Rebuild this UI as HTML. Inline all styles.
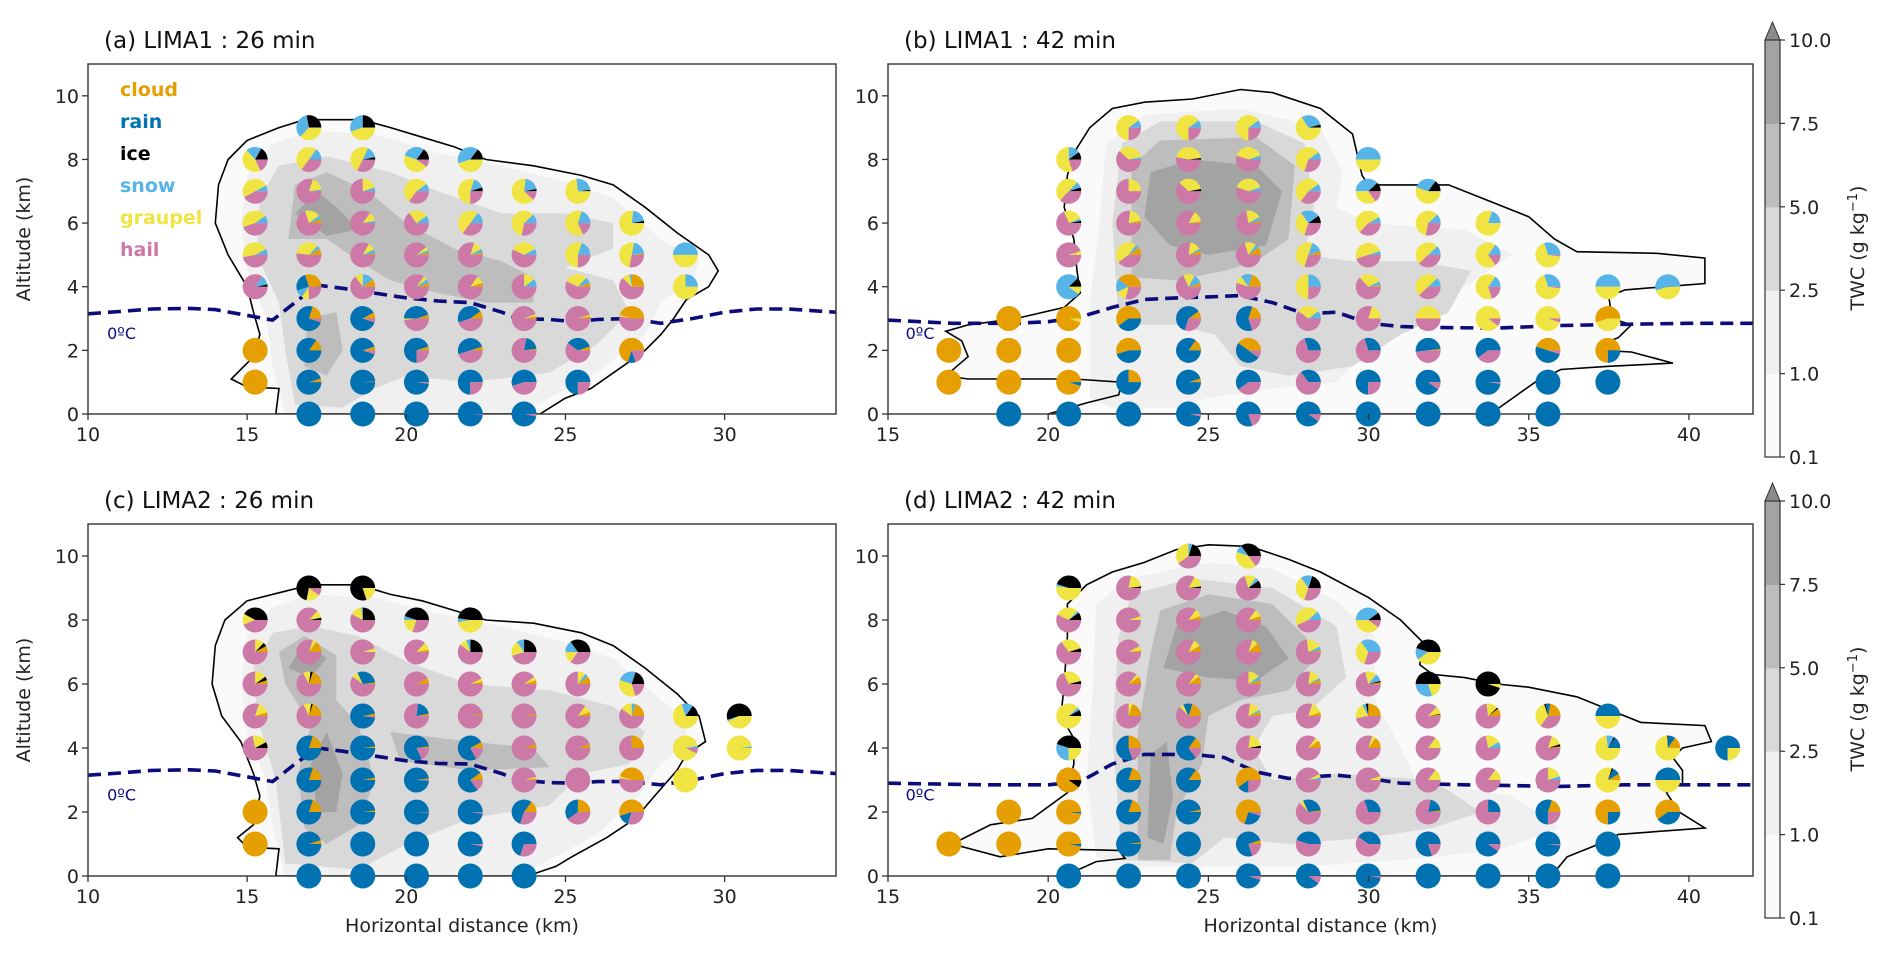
<!DOCTYPE html>
<html><head><meta charset="utf-8">
<style>
html,body{margin:0;padding:0;background:#fff;}
svg{display:block;font-family:"DejaVu Sans","Liberation Sans",sans-serif;}
</style></head>
<body>
<svg id="fig" width="1892" height="955" viewBox="0 0 1892 955" xmlns="http://www.w3.org/2000/svg">
<rect width="1892" height="955" fill="#fff"/>
</svg>
<script>
// ---------- data ----------
const speciesNames = ["cloud","rain","ice","snow","graupel","hail"];
const speciesColors = ["#e69f00","#0072b2","#000000","#56b4e9","#f0e442","#cc79a7"];
const twcLevels = ["0.1","1.0","2.5","5.0","7.5","10.0"];
const twcColors = ["#fafafa","#f0f0f0","#d9d9d9","#bdbdbd","#a3a3a3"];
const xTicksA = [10,15,20,25,30];
const xTicksB = [15,20,25,30,35,40];
const yTicks = [0,2,4,6,8,10];
const colsA = [15.25,16.94,18.63,20.32,22.01,23.7,25.39,27.08,28.77,30.46];
const colsB = [16.9,18.77,20.64,22.51,24.38,26.25,28.12,29.99,31.86,33.73,35.6,37.47,39.34,41.21];

// pies: [col, z, cloud, rain, ice, snow, graupel, hail]
const piesA = [
[1,9,0,0,28,35,37,0],[2,9,0,0,25,30,45,0],
[0,8,0,0,17,20,45,18],[1,8,0,0,0,15,50,35],[2,8,0,0,3,15,50,32],[3,8,0,0,15,30,45,10],[4,8,0,0,15,40,45,0],
[0,7,0,0,0,8,50,42],[1,7,0,0,0,2,18,80],[2,7,0,0,0,5,20,75],[3,7,0,0,0,10,55,35],[4,7,0,0,5,15,55,25],[5,7,0,0,3,20,65,12],[6,7,0,0,2,25,73,0],
[0,6,0,0,0,10,45,45],[1,6,5,0,0,5,20,70],[2,6,0,0,0,3,12,85],[3,6,0,0,0,10,25,65],[4,6,0,0,0,15,50,35],[5,6,0,0,0,12,60,28],[6,6,0,0,0,20,62,18],[7,6,0,0,3,20,77,0],
[0,5,0,0,0,8,45,47],[1,5,8,0,0,5,35,52],[2,5,2,0,0,5,10,83],[3,5,3,0,0,3,5,89],[4,5,3,0,0,5,12,80],[5,5,0,0,0,8,35,57],[6,5,0,0,0,20,55,25],[7,5,2,0,0,20,50,28],[8,5,0,0,0,50,50,0],
[0,4,0,0,3,12,0,85],[1,4,30,25,0,10,10,25],[2,4,10,0,0,15,10,65],[3,4,5,0,0,5,5,85],[4,4,5,0,0,0,10,85],[5,4,0,0,0,10,15,75],[6,4,5,0,0,8,30,57],[7,4,25,0,0,3,10,62],[8,4,0,0,0,25,75,0],
[1,3,20,75,0,0,0,5],[2,3,8,87,0,0,0,5],[3,3,5,45,0,0,2,48],[4,3,10,45,0,0,0,45],[5,3,3,0,0,0,3,94],[6,3,3,0,0,0,2,95],[7,3,45,0,0,0,2,53],
[0,2,100,0,0,0,0,0],[1,2,15,85,0,0,0,0],[2,2,5,90,0,0,0,5],[3,2,5,70,0,0,0,25],[4,2,5,50,0,0,0,45],[5,2,2,20,0,0,0,78],[6,2,5,35,0,0,0,60],[7,2,70,10,0,0,0,20],
[0,1,100,0,0,0,0,0],[1,1,5,95,0,0,0,0],[2,1,1,99,0,0,0,0],[3,1,0,98,0,0,0,2],[4,1,0,75,0,0,0,25],[5,1,0,55,0,0,0,45],[6,1,0,75,0,0,0,25],
[1,0,0,100,0,0,0,0],[2,0,0,100,0,0,0,0],[3,0,0,100,0,0,0,0],[4,0,0,99,0,0,0,1],[5,0,0,97,0,0,0,3]
];
const piesB = [
[0,2,100,0,0,0,0,0],[0,1,100,0,0,0,0,0],
[1,3,100,0,0,0,0,0],[1,2,100,0,0,0,0,0],[1,1,100,0,0,0,0,0],[1,0,0,100,0,0,0,0],
[2,8,0,0,10,15,55,20],[2,7,0,0,5,8,50,37],[2,6,0,0,3,3,25,69],[2,5,0,0,0,0,5,95],[2,4,0,0,12,78,10,0],[2,3,95,0,0,0,5,0],[2,2,100,0,0,0,0,0],[2,1,95,5,0,0,0,0],[2,0,0,100,0,0,0,0],
[3,9,0,0,0,10,65,25],[3,8,0,0,0,3,35,62],[3,7,0,0,0,0,25,75],[3,6,3,0,0,0,20,77],[3,5,10,0,0,5,45,40],[3,4,40,0,0,17,14,29],[3,3,60,40,0,0,0,0],[3,2,55,45,0,0,0,0],[3,1,25,75,0,0,0,0],[3,0,0,100,0,0,0,0],
[4,9,0,0,0,10,65,25],[4,8,0,0,2,0,45,53],[4,7,0,0,3,0,35,62],[4,6,2,0,0,0,15,83],[4,5,5,0,0,3,15,77],[4,4,5,0,0,12,15,68],[4,3,10,60,0,0,0,30],[4,2,15,85,0,0,0,0],[4,1,5,95,0,0,0,0],[4,0,0,97,0,0,0,3],
[5,9,0,0,0,10,65,25],[5,8,0,0,0,5,40,55],[5,7,0,0,0,5,40,55],[5,6,3,0,0,5,20,72],[5,5,10,0,0,5,15,70],[5,4,20,0,0,15,10,55],[5,3,20,60,0,0,0,20],[5,2,40,50,0,0,0,10],[5,1,0,60,0,0,0,40],[5,0,0,80,0,0,0,20],
[6,9,0,0,4,30,66,0],[6,8,0,0,0,10,60,30],[6,7,0,0,0,10,55,35],[6,6,0,0,10,25,35,30],[6,5,5,0,0,15,50,30],[6,4,0,0,0,25,50,25],[6,3,0,0,0,10,30,60],[6,2,0,30,0,0,0,70],[6,1,0,35,0,0,0,65],[6,0,0,90,0,0,0,10],
[7,8,0,0,0,50,50,0],[7,7,0,0,12,38,35,15],[7,6,0,0,0,8,55,37],[7,5,0,0,0,5,50,45],[7,4,2,0,0,5,30,63],[7,3,0,0,0,0,20,80],[7,2,0,30,0,0,0,70],[7,1,0,75,0,0,0,25],[7,0,0,100,0,0,0,0],
[8,7,0,0,15,30,55,0],[8,6,0,0,0,12,60,28],[8,5,0,0,0,12,50,38],[8,4,0,0,0,12,50,38],[8,3,0,0,0,0,50,50],[8,2,2,50,0,0,0,48],[8,1,0,90,0,0,0,10],[8,0,0,100,0,0,0,0],
[9,6,0,0,0,20,80,0],[9,5,0,0,0,15,70,15],[9,4,0,0,0,15,65,20],[9,3,0,0,0,0,90,10],[9,2,0,60,0,0,0,40],[9,1,0,98,0,0,0,2],[9,0,0,100,0,0,0,0],
[10,5,0,0,0,30,68,2],[10,4,0,0,0,30,68,2],[10,3,0,0,0,0,95,5],[10,2,45,50,0,0,0,5],[10,1,0,100,0,0,0,0],[10,0,0,100,0,0,0,0],
[11,4,0,0,0,50,50,0],[11,3,55,0,0,0,45,0],[11,2,75,25,0,0,0,0],[11,1,0,100,0,0,0,0],
[12,4,0,0,0,55,45,0]
];
const piesC = [
[1,9,0,0,72,0,18,10],[2,9,0,0,80,0,20,0],
[0,8,0,0,42,0,14,44],[1,8,0,0,3,0,10,87],[2,8,0,0,25,2,15,58],[3,8,0,0,45,5,20,30],[4,8,0,0,48,5,47,0],
[0,7,8,0,5,0,12,75],[1,7,15,0,0,0,5,80],[2,7,0,0,0,0,5,95],[3,7,3,0,0,0,10,87],[4,7,0,0,25,5,10,60],[5,7,0,0,25,10,20,45],[6,7,0,0,35,15,15,35],
[0,6,5,0,5,0,15,75],[1,6,20,0,3,0,10,67],[2,6,2,30,0,0,8,60],[3,6,8,0,0,0,0,92],[4,6,3,0,0,0,4,93],[5,6,5,0,0,0,5,90],[6,6,10,0,0,5,10,75],[7,6,0,0,20,25,35,20],
[0,5,5,0,0,0,15,80],[1,5,20,0,2,0,10,68],[2,5,3,95,0,0,0,2],[3,5,3,20,0,0,0,77],[4,5,2,0,0,0,0,98],[5,5,2,0,0,0,0,98],[6,5,5,0,0,0,10,85],[7,5,20,0,0,5,15,60],[8,5,0,0,15,15,70,0],[9,5,0,0,55,2,43,0],
[0,4,0,0,8,0,20,72],[1,4,20,80,0,0,0,0],[2,4,2,98,0,0,0,0],[3,4,2,80,0,0,0,18],[4,4,8,75,0,0,0,17],[5,4,5,0,0,0,0,95],[6,4,5,0,0,0,0,95],[7,4,25,0,0,0,0,75],[8,4,0,0,0,3,90,7],[9,4,0,0,0,2,98,0],
[1,3,20,80,0,0,0,0],[2,3,3,97,0,0,0,0],[3,3,2,97,0,0,0,1],[4,3,10,75,0,0,0,15],[5,3,2,0,0,0,2,96],[6,3,0,0,0,0,0,100],[7,3,45,0,0,0,3,52],[8,3,0,0,0,0,100,0],
[0,2,100,0,0,0,0,0],[1,2,20,80,0,0,0,0],[2,2,2,98,0,0,0,0],[3,2,0,99,0,0,0,1],[4,2,0,98,0,0,0,2],[5,2,15,55,0,0,0,30],[6,2,25,35,0,0,0,40],[7,2,55,15,0,0,0,30],
[0,1,100,0,0,0,0,0],[1,1,5,95,0,0,0,0],[2,1,0,100,0,0,0,0],[3,1,0,100,0,0,0,0],[4,1,0,97,0,0,0,3],[5,1,0,70,0,0,0,30],
[1,0,0,100,0,0,0,0],[2,0,0,100,0,0,0,0],[3,0,0,100,0,0,0,0],[4,0,0,100,0,0,0,0],[5,0,0,100,0,0,0,0]
];
const piesD = [
[0,1,100,0,0,0,0,0],
[1,2,100,0,0,0,0,0],[1,1,100,0,0,0,0,0],
[2,9,0,0,45,3,52,0],[2,8,0,0,10,3,30,57],[2,7,0,0,5,0,30,65],[2,6,0,0,4,0,28,68],[2,5,0,0,8,4,88,0],[2,4,0,0,45,30,25,0],[2,3,90,0,10,0,0,0],[2,2,98,2,0,0,0,0],[2,1,97,3,0,0,0,0],[2,0,0,100,0,0,0,0],
[3,9,0,0,2,0,20,78],[3,8,0,0,0,0,5,95],[3,7,2,0,0,0,6,92],[3,6,10,0,0,0,4,86],[3,5,20,0,0,0,5,75],[3,4,25,55,0,0,0,20],[3,3,20,80,0,0,0,0],[3,2,20,80,0,0,0,0],[3,1,2,98,0,0,0,0],[3,0,0,100,0,0,0,0],
[4,10,0,0,20,5,35,40],[4,9,0,0,2,0,15,83],[4,8,5,0,0,0,10,85],[4,7,8,0,0,0,10,82],[4,6,10,0,0,0,5,85],[4,5,20,12,0,0,5,63],[4,4,15,70,0,0,0,15],[4,3,15,85,0,0,0,0],[4,2,3,97,0,0,0,0],[4,1,0,100,0,0,0,0],[4,0,0,100,0,0,0,0],
[5,10,0,0,35,10,40,15],[5,9,0,0,10,5,15,70],[5,8,5,0,0,0,10,85],[5,7,12,0,0,0,8,80],[5,6,5,0,0,5,15,75],[5,5,5,0,0,3,15,77],[5,4,0,0,3,0,20,77],[5,3,60,15,0,0,0,25],[5,2,70,25,0,0,0,5],[5,1,5,75,0,0,0,20],[5,0,0,95,0,0,0,5],
[6,9,0,0,20,15,35,30],[6,8,0,0,0,12,45,43],[6,7,2,0,0,5,20,73],[6,6,5,0,0,3,15,77],[6,5,5,0,0,0,15,80],[6,4,10,0,0,0,5,85],[6,3,0,0,0,3,5,92],[6,2,2,30,0,0,5,63],[6,1,0,45,0,0,0,55],[6,0,0,90,0,0,0,10],
[7,8,0,0,10,40,40,10],[7,7,0,0,0,35,35,30],[7,6,2,0,2,10,15,71],[7,5,25,0,3,5,20,47],[7,4,15,0,0,0,5,80],[7,3,0,0,0,0,5,95],[7,2,0,30,0,0,0,70],[7,1,0,40,0,0,0,60],[7,0,0,98,0,0,0,2],
[8,7,0,0,45,15,40,0],[8,6,0,0,50,30,20,0],[8,5,2,0,1,0,10,87],[8,4,0,0,0,0,15,85],[8,3,0,0,0,0,15,85],[8,2,2,20,0,0,0,78],[8,1,0,80,0,0,0,20],[8,0,0,100,0,0,0,0],
[9,6,0,0,95,0,5,0],[9,5,10,0,2,0,15,73],[9,4,0,0,0,8,20,72],[9,3,0,0,0,0,15,85],[9,2,0,25,0,0,0,75],[9,1,0,90,0,0,0,10],[9,0,0,100,0,0,0,0],
[10,5,22,6,2,0,35,35],[10,4,2,0,3,0,15,80],[10,3,0,0,0,5,20,75],[10,2,20,55,0,0,0,25],[10,1,0,98,0,0,0,2],[10,0,0,100,0,0,0,0],
[11,5,0,50,0,0,50,0],[11,4,0,15,2,10,73,0],[11,3,8,10,2,0,80,0],[11,2,75,25,0,0,0,0],[11,1,0,100,0,0,0,0],[11,0,0,100,0,0,0,0],
[12,4,15,10,1,0,74,0],[12,3,0,50,0,0,50,0],[12,2,60,40,0,0,0,0],
[13,4,0,75,0,0,25,0]
];

// freezing level [x, z]
const frzA = [[10,3.15],[11,3.22],[12,3.3],[13.2,3.32],[14,3.28],[15,3.1],[15.8,2.95],[16.5,3.5],[17.2,4.05],[18,3.95],[19,3.8],[20,3.65],[21,3.55],[22,3.5],[23,3.2],[23.5,3.0],[24.5,2.97],[25.3,2.9],[26,2.97],[27,3.0],[28,2.85],[29,3.0],[30,3.2],[31,3.3],[32,3.3],[33.5,3.2]];
const frzB = [[15,2.95],[16,2.9],[17,2.85],[19,2.85],[20,2.9],[21,3.05],[22,3.35],[23,3.6],[24,3.65],[25,3.68],[26,3.72],[27,3.5],[28,3.15],[29,3.2],[30,2.85],[31,2.75],[32,2.72],[34,2.7],[36,2.78],[38,2.82],[40,2.85],[42,2.85]];
const frzC = [[10,3.15],[11,3.22],[12,3.3],[13.2,3.32],[14,3.28],[15,3.1],[15.8,2.95],[16.5,3.5],[17.2,4.0],[18,3.9],[19,3.75],[20,3.6],[21,3.52],[22,3.5],[23,3.2],[23.5,3.0],[24.5,2.92],[25.3,2.9],[26,2.95],[27,2.95],[28,2.85],[29,3.0],[30,3.2],[31,3.3],[32,3.3],[33.5,3.2]];
const frzD = [[15,2.9],[18,2.85],[20,2.85],[21,2.95],[22,3.5],[23,3.8],[24.5,3.8],[25.5,3.7],[26.5,3.25],[27.5,3.05],[29,3.15],[30,3.05],[31,2.9],[33,2.85],[36,2.8],[38,2.85],[42,2.85]];

// cloud outline [x, z]
const outA = [[15.9,0],[16,0.8],[15,0.85],[14.5,1.1],[15.2,1.8],[15.4,2.5],[15.2,3.2],[15,4.0],[14.4,5],[14,6],[14.1,7.2],[14.4,8],[15,8.6],[16,9.0],[16.8,9.25],[18.6,9.25],[19.5,9.0],[20.5,8.7],[21.5,8.4],[22.5,8.0],[24,7.8],[25.5,7.5],[26.5,7.2],[27.5,6.5],[28.5,5.7],[29.5,5.0],[29.8,4.5],[29.5,4.0],[28.8,3.6],[28.6,3.3],[28.4,3.0],[28.0,2.5],[27.5,2.0],[26.8,1.5],[25.8,0.8],[25,0.5],[24.2,0]];
const outB = [[20.0,0],[21.2,0.35],[22.2,0.6],[22.3,1.0],[20.8,1.1],[17.5,1.1],[16.8,1.2],[17.5,1.8],[17.3,2.3],[16.8,2.6],[17.5,2.8],[19,3.0],[20.5,3.35],[21,3.8],[20.9,4.5],[20.8,5.5],[20.5,6.5],[20.6,7.5],[20.8,8.2],[21.3,9.0],[22,9.6],[23,9.8],[24.5,9.9],[26,10.2],[27,10.1],[28.5,9.6],[29.5,8.8],[29.8,7.5],[30.0,7.2],[31,7.2],[32.5,7.2],[33.5,6.8],[35,6.2],[35.8,5.5],[36.5,5.1],[39,5.05],[40.5,4.9],[40.5,4.1],[38,3.9],[37.5,3.7],[37.6,3.0],[38.2,2.8],[37.8,2.4],[37.3,2.2],[37.3,2.0],[38.2,1.95],[39.5,1.6],[37.5,1.5],[36,1.4],[35.2,1.0],[34.5,0.5],[33.8,0]];
const outC = [[15.9,0],[16.0,0.85],[15,0.9],[14.7,1.2],[15.2,1.6],[15.4,2.5],[15.2,3.2],[14.8,4.2],[14.2,5.0],[13.9,6.0],[14,7.2],[14.3,8.0],[15.0,8.6],[16.2,8.9],[17.0,9.1],[18.5,9.1],[19.5,8.8],[20.5,8.6],[21.5,8.3],[22.5,8.0],[24,7.9],[25.5,7.6],[26.5,7.2],[27.5,6.5],[28.5,5.7],[29.2,5.0],[29.4,4.2],[28.8,3.8],[28.5,3.3],[27.8,2.5],[27.2,1.8],[26.3,1.2],[25.2,0.6],[24.7,0.3],[23.8,0]];
const outD = [[20.5,0],[21.5,0.45],[22.4,0.55],[22.2,0.8],[20,0.85],[18.5,0.6],[17,1.0],[18.2,1.6],[19.5,1.8],[20.6,2.6],[20.8,3.5],[20.8,4.3],[20.4,5],[20.5,6],[20.6,7.5],[20.6,8.5],[21.2,9.1],[22,9.5],[23,9.8],[24,10.2],[25,10.35],[26.3,10.3],[27.5,9.9],[28.5,9.5],[30,8.7],[31,8.0],[31.7,7.3],[31.6,6.6],[32,6.3],[33,6.2],[34,6.0],[35,5.9],[36.5,5.6],[37.5,5.2],[38.5,4.8],[40.5,4.7],[40.7,4.2],[39.8,4.0],[39.5,3.7],[39.8,3.3],[39.8,2.9],[39.3,2.6],[39.7,2.0],[40.5,1.5],[37.8,1.3],[37.2,1.0],[36.2,0.6],[35.7,0]];

// TWC shaded regions: [levelIndex, polygon]
const twcA = [
[1,[[16.2,0],[15.8,1.5],[15.6,3],[15.0,4.5],[14.8,6],[15,7.5],[15.8,8.5],[17,8.9],[19,8.8],[21,8.2],[23,7.8],[25,7.3],[26.5,6.8],[28,5.5],[29.2,4.8],[29,4.2],[28,3.5],[27.5,2.5],[26,1.3],[24.5,0.5],[23.5,0]]],
[2,[[16.5,0.3],[16.2,2],[16,3.5],[15.3,5],[15.4,6.8],[16,7.8],[17.5,8.1],[19.5,7.6],[21,7],[23,6.3],[25,6.3],[26.5,6.0],[26.5,5.2],[25,4.6],[26.5,4.2],[27,3.2],[26,2.2],[24.5,1.3],[22,1.0],[20,1.2],[19,0.8],[18,0.2]]],
[3,[[16.3,5.5],[16.5,7.2],[17.5,7.6],[18.8,7.0],[20,6.0],[21.5,5.2],[23,4.8],[24,4.3],[24,3.5],[22.5,3.5],[21,3.8],[19.5,4.2],[18.5,4.8],[17.5,5.5]]],
[3,[[16.8,1.5],[16.9,3.0],[17.8,3.2],[18.0,2.0],[17.5,1.2]]],
[4,[[16.5,6.3],[17.2,7.0],[17.8,6.5],[18.5,5.8],[17.5,5.6]]]
];
const twcB = [
[1,[[21.3,0.5],[21.3,3.5],[21.6,6],[21.8,8.5],[23,9.4],[26,9.6],[28.5,9.0],[29.2,7.6],[29,6.5],[30,6.0],[33,5.8],[34.5,5.0],[33,4.0],[31,3.3],[30,2.0],[29,1.0],[27,0.8],[25,0.5],[24,0.2],[22,0.2]]],
[2,[[22.2,2.8],[22.0,6],[22.3,8.5],[23.5,9.2],[26.5,9.2],[28,8.5],[28.3,6.5],[28,5.0],[29.5,4.8],[31.5,4.8],[33.2,4.5],[32.5,3.2],[31,2.5],[29.5,1.5],[27.5,1.2],[26,1.5],[25.2,2.5],[24,2.8]]],
[3,[[22.6,4.3],[22.6,7.8],[23.5,8.6],[26.5,8.7],[27.7,7.8],[27.5,5.5],[26.5,4.8],[25.5,4.5],[24,4.2]]],
[4,[[23,6.2],[23.2,7.6],[24.5,8.0],[26.5,7.8],[27.3,7.0],[26.8,5.3],[25,5.0],[23.8,5.3]]]
];
const twcC = [
[1,[[16.2,0],[15.8,1.5],[15.6,3],[15.0,4.5],[14.8,6],[15,7.5],[15.8,8.4],[17,8.8],[19,8.7],[21,8.2],[23,7.8],[25,7.3],[26.5,6.8],[28,5.5],[28.9,4.8],[28.6,4.0],[28,3.5],[27.3,2.5],[26,1.3],[24.5,0.5],[23.5,0]]],
[2,[[16.2,0.4],[15.9,3],[15.3,5],[15.2,6.5],[15.8,7.6],[17,7.8],[18.5,7.5],[20,6.7],[22,6.0],[24.5,5.8],[26.5,5.3],[27.5,4.5],[27,3.5],[25.5,3.2],[24.5,2.2],[22,1.8],[20,1.0],[18.5,0.2]]],
[3,[[16.2,6.0],[16.0,7.0],[16.8,7.5],[17.8,6.9],[17.8,5.5],[18.5,4.7],[19,3],[18.5,1.6],[17.5,1.0],[16.8,1.5],[16.6,3.2],[17,4.7]]],
[3,[[19.5,4.5],[22,4.2],[24,4.0],[24.5,3.4],[22,3.3],[19.8,3.6]]],
[4,[[17.2,2.0],[17.0,3.5],[17.5,4.5],[18.0,3.2],[17.8,2.0]]],
[4,[[16.3,6.5],[16.8,7.3],[17.5,6.8],[17.0,6.2]]]
];
const twcD = [
[1,[[21.5,0.6],[21.2,3],[21.4,6],[21.5,8.5],[22.5,9.3],[25,9.8],[27,9.6],[29,8.6],[30.2,7.5],[30.2,5.5],[31,4],[31.5,3],[34.5,2.5],[36,1.5],[34,0.8],[31,0.5],[28,0.3],[25,0.3],[22.5,0.3]]],
[2,[[22.3,0.5],[22,4.5],[22.2,7.5],[22.6,8.8],[24.5,9.3],[27,9.0],[29,7.8],[29.3,6.2],[28.2,5.2],[27.0,5.0],[26.4,4.0],[27,3.0],[29,3.2],[32,3.0],[33.5,2.0],[32,1.5],[30,1.2],[27.5,1.0],[25.5,1.2],[24.5,0.4]]],
[3,[[22.8,0.5],[22.8,4.5],[23.2,7.0],[23.5,8.3],[25,8.8],[27,8.5],[28.5,7.0],[27.5,5.8],[26,5.5],[25,5.0],[24.8,3.5],[24,2.0],[23.8,0.5]]],
[4,[[23.6,6.5],[24.0,7.8],[25.5,8.3],[26.8,7.8],[27.5,6.8],[26.5,6.1],[25,6.2]]],
[4,[[23.1,1.2],[23.2,3.8],[23.7,4.2],[23.9,2.5],[23.6,1.0]]]
];

// ---------- drawing ----------
const NS = "http://www.w3.org/2000/svg";
const svg = document.getElementById("fig");
function mk(tag, attrs, parent){
  const e = document.createElementNS(NS, tag);
  for (const k in attrs) e.setAttribute(k, attrs[k]);
  (parent||svg).appendChild(e);
  return e;
}
const panels = [
 {id:"a", title:"(a) LIMA1 : 26 min", L:88, R:836, T:64, B:414, x0:10, x1:33.5, ticks:xTicksA, cols:colsA, pies:piesA, frz:frzA, out:outA, twc:twcA, frzLab:[10.6,2.55], xlabel:false, legend:true},
 {id:"b", title:"(b) LIMA1 : 42 min", L:888, R:1753, T:64, B:414, x0:15, x1:42, ticks:xTicksB, cols:colsB, pies:piesB, frz:frzB, out:outB, twc:twcB, frzLab:[15.55,2.55], xlabel:false, legend:false},
 {id:"c", title:"(c) LIMA2 : 26 min", L:88, R:836, T:524, B:876, x0:10, x1:33.5, ticks:xTicksA, cols:colsA, pies:piesC, frz:frzC, out:outC, twc:twcC, frzLab:[10.6,2.55], xlabel:true, legend:false},
 {id:"d", title:"(d) LIMA2 : 42 min", L:888, R:1753, T:524, B:876, x0:15, x1:42, ticks:xTicksB, cols:colsB, pies:piesD, frz:frzD, out:outD, twc:twcD, frzLab:[15.55,2.55], xlabel:true, legend:false}
];
const Y0 = 0, Y1 = 11, PIE_R = 12.5;

panels.forEach(p => {
  const sx = v => p.L + (v - p.x0) / (p.x1 - p.x0) * (p.R - p.L);
  const sy = v => p.B - (v - Y0) / (Y1 - Y0) * (p.B - p.T);
  const g = mk("g", {});
  
  
  const clipId = "clip" + p.id;
  const cp = mk("clipPath", {id: clipId}, g);
  mk("rect", {x:p.L, y:p.T, width:p.R-p.L, height:p.B-p.T}, cp);

  const shade = mk("g", {"clip-path":"url(#"+clipId+")"}, g);
  
  
  const pts = arr => arr.map(q => sx(q[0]).toFixed(1)+","+sy(q[1]).toFixed(1)).join(" ");
  // outermost light fill = cloud outline
  const base = mk("polygon", {points: pts(p.out), fill: twcColors[0]}, shade);
  
  
  p.twc.forEach(t => {
    const poly = mk("polygon", {points: pts(t[1]), fill: twcColors[t[0]]}, shade);
    
    
  });
  const outline = mk("polygon", {points: pts(p.out), fill:"none", stroke:"#000", "stroke-width":1.6}, shade);
  
  
  const frz = mk("polyline", {points: pts(p.frz), fill:"none", stroke:"#0b0b7a", "stroke-width":3.6, "stroke-dasharray":"13,7"}, shade);
  
  
  const fl = mk("text", {x: sx(p.frzLab[0]), y: sy(p.frzLab[1]) + 6, "font-size":16, fill:"#0b0b7a"}, g);
  fl.textContent = "0ºC";
  
  

  // axes frame
  const frame = mk("rect", {x:p.L, y:p.T, width:p.R-p.L, height:p.B-p.T, fill:"none", stroke:"#333", "stroke-width":1.4}, g);
  
  

  // pies
  const pg = mk("g", {}, g);
  
  
  p.pies.forEach(d => {
    const cx = sx(p.cols[d[0]]), cy = sy(d[1]);
    const fr = d.slice(2);
    const tot = fr.reduce((a,b)=>a+b,0);
    const pie = mk("g", {}, pg);
    
    
    let a = 0;
    fr.forEach((f, k) => {
      if (f <= 0) return;
      const frac = f / tot;
      if (frac >= 0.999) {
        const c = mk("circle", {cx:cx, cy:cy, r:PIE_R, fill:speciesColors[k]}, pie);
        
        
        return;
      }
      const a2 = a + frac * 2 * Math.PI;
      const x1 = cx + PIE_R*Math.cos(a), y1 = cy - PIE_R*Math.sin(a);
      const x2 = cx + PIE_R*Math.cos(a2), y2 = cy - PIE_R*Math.sin(a2);
      const large = (a2 - a) > Math.PI ? 1 : 0;
      const s = mk("path", {d:`M${cx},${cy} L${x1.toFixed(2)},${y1.toFixed(2)} A${PIE_R},${PIE_R} 0 ${large} 0 ${x2.toFixed(2)},${y2.toFixed(2)} Z`, fill:speciesColors[k]}, pie);
      
      
      a = a2;
    });
  });

  // x ticks
  p.ticks.forEach(t => {
    const x = sx(t);
    const tk = mk("line", {x1:x, x2:x, y1:p.B, y2:p.B+6, stroke:"#333", "stroke-width":1.3}, g);
    
    
    const tl = mk("text", {x:x, y:p.B+27, "font-size":19, "text-anchor":"middle", fill:"#222"}, g);
    tl.textContent = t;
    
    
  });
  yTicks.forEach(t => {
    const y = sy(t);
    const tk = mk("line", {x1:p.L-6, x2:p.L, y1:y, y2:y, stroke:"#333", "stroke-width":1.3}, g);
    
    
    const tl = mk("text", {x:p.L-9, y:y+7, "font-size":19, "text-anchor":"end", fill:"#222"}, g);
    tl.textContent = t;
    
    
  });
  const title = mk("text", {x:p.L+16, y:p.T-16, "font-size":23, fill:"#111"}, g);
  title.textContent = p.title;
  
  
  if (p.L < 200) {
    const yl = mk("text", {x:0, y:0, "font-size":19, "text-anchor":"middle", fill:"#222", transform:`translate(30,${(p.T+p.B)/2}) rotate(-90)`}, g);
    yl.textContent = "Altitude (km)";
    
    
  }
  if (p.xlabel) {
    const xl = mk("text", {x:(p.L+p.R)/2, y:p.B+56, "font-size":19, "text-anchor":"middle", fill:"#222"}, g);
    xl.textContent = "Horizontal distance (km)";
    
    
  }
  if (p.legend) {
    const lg = mk("g", {}, g);
    
    
    speciesNames.forEach((n, k) => {
      const t = mk("text", {x:120, y:96 + k*32, "font-size":19, "font-weight":"bold", fill:speciesColors[k]}, lg);
      t.textContent = n;
      
      
    });
  }
});

// colorbars
[40, 501].forEach((top, ci) => {
  const cb = mk("g", {});
  
  
  const X = 1765, W = 15, bot = top + 417, band = 417 / 5;
  for (let i = 0; i < 5; i++) {
    const r = mk("rect", {x:X, y:bot-(i+1)*band, width:W, height:band+0.5, fill:twcColors[i]}, cb);
    
    
  }
  const tri = mk("polygon", {points:`${X},${top} ${X+W},${top} ${X+W/2},${top-18}`, fill:"#8c8c8c", stroke:"#333", "stroke-width":1}, cb);
  
  
  const fr = mk("rect", {x:X, y:top, width:W, height:417, fill:"none", stroke:"#333", "stroke-width":1.2}, cb);
  
  
  twcLevels.forEach((lv, i) => {
    const y = bot - i*band;
    const tk = mk("line", {x1:X+W, x2:X+W+5, y1:y, y2:y, stroke:"#333", "stroke-width":1.2}, cb);
    
    
    const t = mk("text", {x:X+W+9, y:y+7, "font-size":19, fill:"#222"}, cb);
    t.textContent = lv;
    
    
  });
  const lab = mk("text", {x:0, y:0, "font-size":19, "text-anchor":"middle", fill:"#222", transform:`translate(1864,${top+208}) rotate(-90)`}, cb);
  lab.innerHTML = 'TWC (g kg<tspan dy="-7" font-size="13">−1</tspan><tspan dy="7">)</tspan>';
  
  
});
</script>
</body></html>
